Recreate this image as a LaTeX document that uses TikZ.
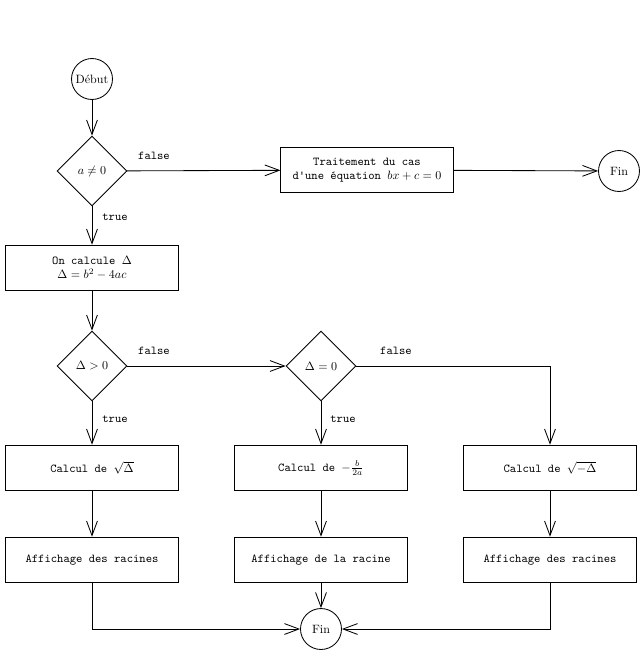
\documentclass[tikz,border=0pt]{standalone}
\usetikzlibrary{shapes.geometric,arrows.meta}
\begin{document}
\begin{tikzpicture}[x=0.83pt,y=-0.83pt,
  every path/.style={line width=0.7pt},
  arr/.style={draw,-{Straight Barb[length=12pt,width=9pt,line width=0.7pt]}},
  term/.style={circle,draw,line width=0.7pt,minimum size=34pt,inner sep=0pt},
  cond/.style={diamond,draw,line width=0.7pt,minimum width=58pt,minimum height=58pt,inner sep=0pt},
  proc/.style={rectangle,draw,line width=0.7pt,minimum width=143pt,minimum height=38pt,inner sep=2pt,align=center,font=\ttfamily},
  lbl/.style={font=\ttfamily,inner sep=1pt}]
\useasboundingbox (0,0) rectangle (640,656);
\node[term] (debut) at (92,79) {Début};
\node[cond] (d1) at (92,171) {$a\neq 0$};
\node[proc] (trait) at (367,170) {Traitement du cas\\d'une équation $bx+c=0$};
\node[term] (fin1) at (619,171) {Fin};
\node[proc] (calc) at (92,268) {On calcule $\Delta$\\$\Delta=b^2-4ac$};
\node[cond] (d2) at (92,366) {$\Delta>0$};
\node[cond] (d3) at (321,366) {$\Delta=0$};
\node[proc] (c1) at (92,468) {Calcul de $\sqrt{\Delta}$};
\node[proc] (c2) at (321,468) {Calcul de $-\frac{b}{2a}$};
\node[proc] (c3) at (550,468) {Calcul de $\sqrt{-\Delta}$};
\node[proc] (a1) at (92,560) {Affichage des racines};
\node[proc] (a2) at (321,560) {Affichage de la racine};
\node[proc] (a3) at (550,560) {Affichage des racines};
\node[term] (fin2) at (321,629) {Fin};

\node[lbl] (l1) at (154,156) {false};
\node[lbl] (l2) at (115,217) {true};
\node[lbl] (l3) at (154,351) {false};
\node[lbl] (l4) at (396,351) {false};
\node[lbl] (l5) at (115,419) {true};
\node[lbl] (l6) at (343,419) {true};

\draw[arr] (debut) -- (d1);
\draw[arr] (d1) -- (trait);
\draw[arr] (trait) -- (fin1);
\draw[arr] (d1) -- (calc);
\draw[arr] (calc) -- (d2);
\draw[arr] (d2) -- (d3);
\draw[arr] (d3.east) -| (c3.north);
\draw[arr] (d2) -- (c1);
\draw[arr] (d3) -- (c2);
\draw[arr] (c1) -- (a1);
\draw[arr] (c2) -- (a2);
\draw[arr] (c3) -- (a3);
\draw[arr] (a1.south) |- (fin2.west);
\draw[arr] (a2) -- (fin2);
\draw[arr] (a3.south) |- (fin2.east);
\end{tikzpicture}
\end{document}
